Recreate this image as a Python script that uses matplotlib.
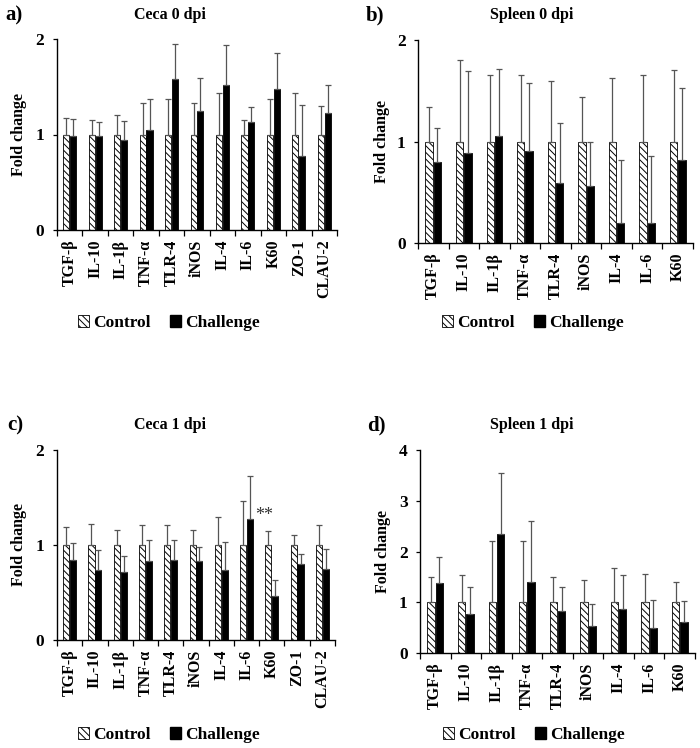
import numpy as np
import matplotlib
matplotlib.use("Agg")
import matplotlib.pyplot as plt
from matplotlib.patches import Patch

plt.rcParams['font.family'] = ['Liberation Serif', 'DejaVu Serif']
plt.rcParams['font.weight'] = 'bold'
plt.rcParams['hatch.linewidth'] = 0.7

# Gene labels
genes_ceca = ['TGF-β', 'IL-10', 'IL-1β', 'TNF-α', 'TLR-4', 'iNOS', 'IL-4', 'IL-6', 'K60', 'ZO-1', 'CLAU-2']
genes_spleen = ['TGF-β', 'IL-10', 'IL-1β', 'TNF-α', 'TLR-4', 'iNOS', 'IL-4', 'IL-6', 'K60']

# a) Ceca 0 dpi  (value, top of error bar)
ceca0_ctrl = [1, 1, 1, 1, 1, 1, 1, 1, 1, 1, 1]
ceca0_ctrl_top = [1.17, 1.15, 1.20, 1.33, 1.37, 1.33, 1.43, 1.15, 1.37, 1.43, 1.30]
ceca0_chal = [0.98, 0.98, 0.94, 1.05, 1.58, 1.25, 1.52, 1.13, 1.48, 0.78, 1.22]
ceca0_chal_top = [1.16, 1.13, 1.14, 1.37, 1.95, 1.59, 1.94, 1.29, 1.85, 1.31, 1.52]

# b) Spleen 0 dpi
spl0_ctrl = [1, 1, 1, 1, 1, 1, 1, 1, 1]
spl0_ctrl_top = [1.34, 1.80, 1.66, 1.66, 1.60, 1.44, 1.63, 1.66, 1.70]
spl0_chal = [0.80, 0.89, 1.05, 0.91, 0.59, 0.56, 0.20, 0.20, 0.82]
spl0_chal_top = [1.13, 1.69, 1.71, 1.58, 1.18, 1.00, 0.82, 0.86, 1.53]

# c) Ceca 1 dpi
ceca1_ctrl = [1, 1, 1, 1, 1, 1, 1, 1, 1, 1, 1]
ceca1_ctrl_top = [1.19, 1.22, 1.16, 1.21, 1.21, 1.16, 1.29, 1.46, 1.15, 1.11, 1.21]
ceca1_chal = [0.84, 0.74, 0.72, 0.83, 0.84, 0.83, 0.74, 1.27, 0.46, 0.80, 0.75]
ceca1_chal_top = [1.02, 0.95, 0.88, 1.05, 1.05, 0.98, 1.03, 1.73, 0.63, 0.91, 0.96]

# d) Spleen 1 dpi
spl1_ctrl = [1, 1, 1, 1, 1, 1, 1, 1, 1]
spl1_ctrl_top = [1.50, 1.53, 2.20, 2.20, 1.49, 1.43, 1.68, 1.56, 1.40]
spl1_chal = [1.38, 0.77, 2.35, 1.40, 0.82, 0.54, 0.86, 0.49, 0.62]
spl1_chal_top = [1.89, 1.30, 3.54, 2.60, 1.30, 0.96, 1.53, 1.04, 1.02]

W, H = 700, 748
fig = plt.figure(figsize=(7, 7.48), dpi=100)


def px_axes(l, r, t, b):
    return fig.add_axes([l / W, 1 - b / H, (r - l) / W, (b - t) / H])


def panel(ax, genes, ctrl, ctrl_top, chal, chal_top, ymax, yticks):
    x = np.arange(len(genes))
    bw = 0.24
    gap = 0.03
    xc = x - bw / 2 - gap / 2
    xh = x + bw / 2 + gap / 2
    ctrl = np.array(ctrl)
    chal = np.array(chal)
    ek = dict(ecolor='#555555', elinewidth=0.9, capsize=2.2, capthick=0.9)
    ax.bar(xc, ctrl, bw, color='white', edgecolor='black', hatch='\\\\\\\\\\', linewidth=0.6,
           yerr=[np.zeros_like(ctrl), np.array(ctrl_top) - ctrl], error_kw=ek)
    ax.bar(xh, chal, bw, color='black', edgecolor='black', linewidth=0.6,
           yerr=[np.zeros_like(chal), np.array(chal_top) - chal], error_kw=ek)
    ax.set_xlim(-0.5, len(genes) - 0.5)
    ax.set_ylim(0, ymax)
    ax.set_yticks(yticks)
    ax.set_yticklabels([str(v) for v in yticks], fontsize=12.5, fontweight='bold')
    ax.set_xticks(x)
    ax.set_xticklabels(genes, rotation=90, fontsize=11.5, fontweight='bold')
    ax.tick_params(axis='x', length=0, pad=7)
    ax.set_xticks(np.arange(len(genes) + 1) - 0.5, minor=True)
    ax.tick_params(axis='x', which='minor', length=4, width=0.9, direction='out')
    ax.tick_params(axis='y', length=3, width=0.9, pad=6)
    for s in ['top', 'right']:
        ax.spines[s].set_visible(False)
    for s in ['left', 'bottom']:
        ax.spines[s].set_linewidth(1.0)
    ax.set_ylabel('Fold change', fontsize=11.5, fontweight='bold')


handles = [Patch(facecolor='white', edgecolor='black', hatch='\\\\\\\\\\', linewidth=0.6),
           Patch(facecolor='black', edgecolor='black')]


def add_legend(cx, cy):
    fig.legend(handles, ['Control', 'Challenge'], loc='center', bbox_to_anchor=(cx / W, 1 - cy / H),
               ncol=2, frameon=False, handlelength=0.65, handleheight=0.65,
               handletextpad=0.25, columnspacing=1.1, prop={'weight': 'bold', 'size': 12.5})


ax_a = px_axes(57, 337, 39, 230)
panel(ax_a, genes_ceca, ceca0_ctrl, ceca0_ctrl_top, ceca0_chal, ceca0_chal_top, 2, [0, 1, 2])
ax_a.yaxis.set_label_coords(-0.107, 0.5)

ax_b = px_axes(418, 693, 40, 243)
panel(ax_b, genes_spleen, spl0_ctrl, spl0_ctrl_top, spl0_chal, spl0_chal_top, 2, [0, 1, 2])
ax_b.yaxis.set_label_coords(-0.102, 0.5)

ax_c = px_axes(57, 335, 450, 640)
panel(ax_c, genes_ceca, ceca1_ctrl, ceca1_ctrl_top, ceca1_chal, ceca1_chal_top, 2, [0, 1, 2])
ax_c.yaxis.set_label_coords(-0.107, 0.5)
ax_c.text(7.7, 1.31, '**', ha='center', va='center', fontsize=13, fontweight='normal', color='#333333')

ax_d = px_axes(420, 695, 450, 653)
panel(ax_d, genes_spleen, spl1_ctrl, spl1_ctrl_top, spl1_chal, spl1_chal_top, 4, [0, 1, 2, 3, 4])
ax_d.yaxis.set_label_coords(-0.105, 0.5)

# titles and panel letters
fig.text(170 / W, 1 - 15 / H, 'Ceca 0 dpi', ha='center', va='center', fontsize=11.5, fontweight='bold')
fig.text(532 / W, 1 - 15 / H, 'Spleen 0 dpi', ha='center', va='center', fontsize=11.5, fontweight='bold')
fig.text(170 / W, 1 - 425 / H, 'Ceca 1 dpi', ha='center', va='center', fontsize=11.5, fontweight='bold')
fig.text(532 / W, 1 - 425 / H, 'Spleen 1 dpi', ha='center', va='center', fontsize=11.5, fontweight='bold')
fig.text(5 / W, 1 - 15 / H, 'a)', ha='left', va='center', fontsize=15, fontweight='bold')
fig.text(366 / W, 1 - 15 / H, 'b)', ha='left', va='center', fontsize=15, fontweight='bold')
fig.text(7 / W, 1 - 425 / H, 'c)', ha='left', va='center', fontsize=15, fontweight='bold')
fig.text(367 / W, 1 - 425 / H, 'd)', ha='left', va='center', fontsize=15, fontweight='bold')

add_legend(169, 323)
add_legend(533, 323)
add_legend(169, 735)
add_legend(534, 735)

fig.savefig('out.png', dpi=100, facecolor='white')
